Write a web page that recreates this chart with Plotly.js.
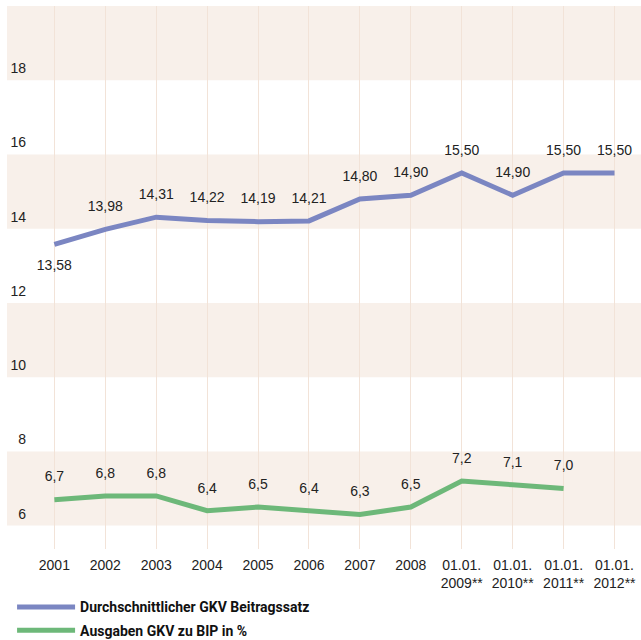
<!DOCTYPE html>
<html>
<head>
<meta charset="utf-8">
<script src="https://cdn.plot.ly/plotly-3.0.1.min.js"></script>
<style>html,body{margin:0;padding:0;background:#fff;}</style>
</head>
<body>
<div id="chart" style="width:641px;height:640px;"></div>
<script>
const categories = ["2001","2002","2003","2004","2005","2006","2007","2008",
  "01.01.<br>2009**","01.01.<br>2010**","01.01.<br>2011**","01.01.<br>2012**"];
const beitragssatz = [13.58, 13.98, 14.31, 14.22, 14.19, 14.21, 14.80, 14.90, 15.50, 14.90, 15.50, 15.50];
const ausgabenBIP = [6.7, 6.8, 6.8, 6.4, 6.5, 6.4, 6.3, 6.5, 7.2, 7.1, 7.0, null];
const seriesNames = ["Durchschnittlicher GKV Beitragssatz", "Ausgaben GKV zu BIP in %"];
const yTicks = [6, 8, 10, 12, 14, 16, 18];
const bandRanges = [[6, 8], [10, 12], [14, 16], [18, 20]];

const fmt = (v, d) => v === null ? "" : v.toFixed(d).replace(".", ",");
const textFont = {family: "Liberation Sans, Arial, sans-serif", size: 14, color: "#222"};
const labelSpacer = {size: 22, color: "rgba(0,0,0,0)", line: {width: 0}};

const traces = [
  {
    x: categories, y: beitragssatz, name: seriesNames[0], legendgroup: "a",
    type: "scatter", mode: "lines+markers+text",
    line: {color: "#7b86c2", width: 5}, marker: labelSpacer,
    text: beitragssatz.map(v => fmt(v, 2)),
    textposition: beitragssatz.map((v, i) => i === 0 ? "bottom center" : "top center"),
    textfont: textFont, hoverinfo: "skip", cliponaxis: false
  },
  {
    x: categories, y: ausgabenBIP, name: seriesNames[1], legendgroup: "b",
    type: "scatter", mode: "lines+markers+text",
    line: {color: "#6db879", width: 5}, marker: labelSpacer,
    text: ausgabenBIP.map(v => fmt(v, 1)),
    textposition: "top center",
    textfont: textFont, hoverinfo: "skip", cliponaxis: false
  }
];

const layout = {
  width: 641, height: 640,
  margin: {l: 7, r: 0, t: 6, b: 91},
  paper_bgcolor: "#fff", plot_bgcolor: "#fff",
  showlegend: true,
  legend: {
    orientation: "v", xref: "paper", x: 0.008, xanchor: "left",
    yref: "container", y: 0.076, yanchor: "top",
    font: {family: "Roboto, sans-serif", size: 14, color: "#111", weight: "bold", stretch: "condensed"},
    itemwidth: 58, tracegroupgap: 2, bgcolor: "rgba(0,0,0,0)"
  },
  xaxis: {
    type: "category", range: [-0.93, 11.52],
    showgrid: true, gridcolor: "#f2e3d8", gridwidth: 1,
    showline: false, zeroline: false, ticks: "", ticklabelstandoff: 6,
    tickfont: textFont, automargin: false
  },
  yaxis: {
    range: [5.37, 20], tickvals: yTicks, ticktext: yTicks.map(String),
    showgrid: false, zeroline: false, showline: false, ticks: "",
    tickfont: textFont, ticklabelshift: -12, ticklabelstandoff: -20, automargin: false
  },
  shapes: bandRanges.map(r => ({
    type: "rect", layer: "below", xref: "paper", x0: 0, x1: 1, yref: "y", y0: r[0], y1: r[1],
    fillcolor: "#f8f0ea", line: {width: 0}
  }))
};

Plotly.newPlot("chart", traces, layout, {displayModeBar: false, staticPlot: true});
</script>
</body>
</html>
